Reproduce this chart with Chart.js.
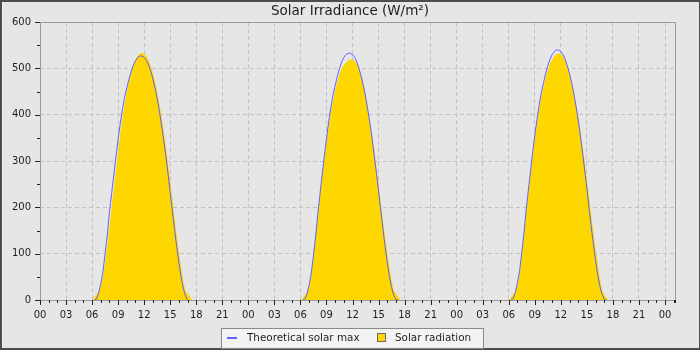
<!DOCTYPE html>
<html>
<head>
<meta charset="utf-8">
<title>Solar Irradiance</title>
<script src="https://cdn.jsdelivr.net/npm/chart.js@4/dist/chart.umd.min.js"></script>
<style>
  html, body { margin: 0; padding: 0; background: #e6e6e6; }
  #wrap { width: 700px; height: 350px; position: relative; }
  canvas { display: block; }
</style>
</head>
<body>
<div id="wrap"><canvas id="chart" width="700" height="350"></canvas></div>
<script>
// Readings every 15 minutes from 06:00 to 17:45 for each of the three days (W/m²)
const sampleStartHour = 6;
const sampleStepHours = 0.25;

const theoreticalDay1 = [0,0,2,15,35,60,100,140,190,230,270,310,348,382,412,438,458,477,494,507,517,524,527,527,524,518,508,495,478,458,435,408,378,345,310,272,232,192,152,115,80,50,26,9,0,0,0,0];
const theoreticalDay2 = [0,0,1,12,32,58,96,138,185,228,270,310,348,384,415,442,463,483,500,514,524,530,533,533,530,524,514,500,483,463,440,412,382,349,313,275,235,194,154,116,81,51,27,10,1,0,0,0];
const theoreticalDay3 = [0,0,3,16,37,63,103,145,194,236,277,318,356,390,421,448,469,489,506,520,530,537,540,540,537,530,520,506,489,469,445,418,388,354,318,280,240,199,158,120,85,54,30,12,2,0,0,0];

const radiationDay1 = [0,5,12,18,30,50,80,118,160,200,242,282,322,360,395,425,450,472,490,506,518,527,532,534,532,527,518,506,491,472,450,425,397,366,332,296,258,218,178,140,104,72,42,20,14,8,0,0];
const radiationDay2 = [0,3,10,16,30,55,92,135,182,225,266,305,342,375,405,430,452,472,488,500,508,513,517,520,519,516,510,500,485,466,444,418,389,358,324,288,250,212,174,138,104,72,44,22,14,8,0,0];
const radiationDay3 = [0,5,12,18,33,58,97,140,188,230,272,312,350,384,414,440,461,480,497,510,520,527,531,533,531,526,517,505,490,471,449,424,396,366,333,298,262,224,186,148,112,78,46,22,12,5,0,0];

// Hour-of-day labels shown every three hours
const hourLabels = ['00','03','06','09','12','15','18','21'];

const theoreticalDays = [theoreticalDay1, theoreticalDay2, theoreticalDay3];
const radiationDays = [radiationDay1, radiationDay2, radiationDay3];

const FONT = "'DejaVu Sans', sans-serif";
const GOLD = '#ffd700';
const BLUE = '#6262ff';
const X_MAX = 73.15;

// Theoretical curve: only the daylight part is drawn, with gaps at night
function theoreticalPoints() {
  const pts = [];
  theoreticalDays.forEach((vals, d) => {
    vals.forEach((v, i) => {
      const prev = i > 0 ? vals[i - 1] : 0;
      const next = i < vals.length - 1 ? vals[i + 1] : 0;
      const keep = v > 0 || prev > 0 || next > 0;
      pts.push({ x: 24 * d + sampleStartHour + i * sampleStepHours, y: keep ? v : null });
    });
  });
  return pts;
}

function radiationPoints() {
  const pts = [{ x: 0, y: 0 }];
  radiationDays.forEach((vals, d) => {
    vals.forEach((v, i) => {
      pts.push({ x: 24 * d + sampleStartHour + i * sampleStepHours, y: v });
    });
  });
  pts.push({ x: X_MAX, y: 0 });
  return pts;
}

// Background, outer bevel, plot frame, tick marks and boxed legend
const decorations = {
  id: 'decorations',
  beforeDraw(chart) {
    const ctx = chart.ctx;
    ctx.save();
    ctx.fillStyle = '#e6e6e6';
    ctx.fillRect(0, 0, chart.width, chart.height);
    ctx.fillStyle = '#4d4d4d';
    ctx.fillRect(0, 0, chart.width, 2);
    ctx.fillRect(0, 0, 2, chart.height);
    ctx.fillRect(0, chart.height - 2, chart.width, 2);
    ctx.fillRect(chart.width - 1, 0, 1, chart.height);
    ctx.fillStyle = '#f5f5f5';
    ctx.fillRect(2, 2, 1, chart.height - 4);
    ctx.restore();
  },
  afterDatasetsDraw(chart) {
    const ctx = chart.ctx;
    const a = chart.chartArea;
    const xs = chart.scales.x, ys = chart.scales.y;
    ctx.save();
    ctx.strokeStyle = '#9a9a9a';
    ctx.lineWidth = 1;
    ctx.strokeRect(Math.round(a.left) + 0.5, Math.round(a.top) + 0.5,
                   Math.round(a.right - a.left), Math.round(a.bottom - a.top));
    ctx.strokeStyle = '#222';
    ctx.beginPath();
    for (let h = 0; h <= 73; h++) {
      const x = Math.round(xs.getPixelForValue(h)) + 0.5;
      const len = h % 3 === 0 ? 5 : 3;
      ctx.moveTo(x, a.bottom);
      ctx.lineTo(x, a.bottom + len);
    }
    const xr = Math.round(a.right) + 0.5;
    ctx.moveTo(xr, a.bottom); ctx.lineTo(xr, a.bottom + 3);
    for (let v = 0; v <= 600; v += 50) {
      const y = Math.round(ys.getPixelForValue(v)) + 0.5;
      const len = v % 100 === 0 ? 5 : 3;
      ctx.moveTo(a.left, y);
      ctx.lineTo(a.left - len, y);
    }
    ctx.stroke();
    ctx.restore();
  },
  afterDraw(chart) {
    const ctx = chart.ctx;
    ctx.save();
    // legend frame
    ctx.fillStyle = '#f3f3f3';
    ctx.fillRect(221, 328, 263, 19);
    ctx.strokeStyle = '#8a8a8a';
    ctx.lineWidth = 1;
    ctx.strokeRect(221.5, 328.5, 262, 20);
    // theoretical marker
    ctx.strokeStyle = BLUE;
    ctx.lineWidth = 2;
    ctx.beginPath();
    ctx.moveTo(227, 338);
    ctx.lineTo(237, 338);
    ctx.stroke();
    // radiation marker
    ctx.fillStyle = GOLD;
    ctx.fillRect(377, 333, 8, 9);
    ctx.strokeStyle = '#6a6a6a';
    ctx.lineWidth = 1;
    ctx.strokeRect(377.5, 333.5, 8, 8);
    ctx.fillStyle = '#1e1e1e';
    ctx.font = '10.4px ' + FONT;
    ctx.textBaseline = 'middle';
    ctx.textAlign = 'left';
    ctx.fillText('Theoretical solar max', 247, 338);
    ctx.fillText('Solar radiation', 395, 338);
    ctx.restore();
  }
};

new Chart(document.getElementById('chart'), {
  type: 'line',
  data: {
    datasets: [
      {
        label: 'Theoretical solar max',
        data: theoreticalPoints(),
        borderColor: BLUE,
        borderWidth: 1,
        pointRadius: 0,
        tension: 0,
        fill: false,
        spanGaps: false,
        order: 0
      },
      {
        label: 'Solar radiation',
        data: radiationPoints(),
        borderColor: 'rgba(0,0,0,0)',
        backgroundColor: GOLD,
        borderWidth: 0,
        pointRadius: 0,
        tension: 0,
        fill: 'origin',
        order: 1
      }
    ]
  },
  options: {
    responsive: false,
    animation: false,
    events: [],
    layout: { padding: 0 },
    plugins: {
      legend: { display: false },
      tooltip: { enabled: false },
      title: {
        display: true,
        text: 'Solar Irradiance (W/m²)',
        color: '#1e1e1e',
        font: { family: FONT, size: 13.5, weight: 'normal' },
        padding: { top: 3, bottom: 3 }
      }
    },
    scales: {
      x: {
        type: 'linear',
        min: 0,
        max: X_MAX,
        afterFit(scale) { scale.height = 50; },
        border: { display: false, dash: [4, 3] },
        grid: {
          drawTicks: false,
          lineWidth: 1,
          color: (c) => (c.tick && c.tick.value > 0 && c.tick.value % 3 === 0 && c.tick.value < 73) ? '#c2c2c2' : 'rgba(0,0,0,0)'
        },
        ticks: {
          stepSize: 1,
          autoSkip: false,
          maxRotation: 0,
          padding: 9,
          color: '#1e1e1e',
          font: { family: FONT, size: 10 },
          callback: (v) => (Number.isInteger(v) && v % 3 === 0) ? hourLabels[(v % 24) / 3] : ''
        }
      },
      y: {
        min: 0,
        max: 600,
        afterFit(scale) { scale.width = 40; },
        border: { display: false, dash: [4, 3] },
        grid: {
          drawTicks: false,
          lineWidth: 1,
          color: (c) => (c.tick && c.tick.value > 0 && c.tick.value < 600 && c.tick.value % 100 === 0) ? '#c2c2c2' : 'rgba(0,0,0,0)'
        },
        ticks: {
          stepSize: 50,
          padding: 9,
          color: '#1e1e1e',
          font: { family: FONT, size: 10 },
          callback: (v) => v % 100 === 0 ? String(v) : ''
        }
      },
      // empty right-hand margin so the plot ends short of the canvas edge
      yRight: {
        position: 'right',
        display: true,
        afterFit(scale) { scale.width = 25; },
        border: { display: false },
        grid: { display: false },
        ticks: { display: false }
      }
    }
  },
  plugins: [decorations]
});
</script>
</body>
</html>
